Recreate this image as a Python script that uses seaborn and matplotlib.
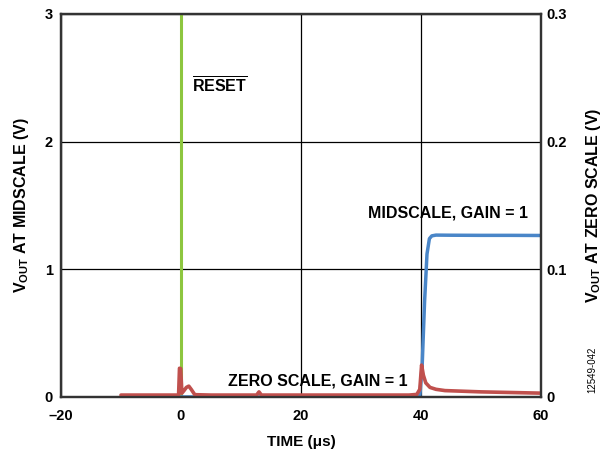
import numpy as np
import pandas as pd
import matplotlib
matplotlib.use("Agg")
import matplotlib.pyplot as plt
import seaborn as sns

sns.set_style("white")
plt.rcParams['font.family'] = ['Liberation Sans', 'DejaVu Sans']
plt.rcParams['font.weight'] = 'bold'
plt.rcParams['mathtext.fontset'] = 'custom'
plt.rcParams['mathtext.rm'] = 'Liberation Sans:bold'
plt.rcParams['mathtext.bf'] = 'Liberation Sans:bold'
plt.rcParams['mathtext.it'] = 'Liberation Sans:bold'
plt.rcParams['text.color'] = 'black'
plt.rcParams['axes.labelcolor'] = 'black'
plt.rcParams['xtick.color'] = 'black'
plt.rcParams['ytick.color'] = 'black'

# midscale output (left axis, V)
mid_t = [-10, 39.8, 40.2, 40.6, 41.0, 41.4, 41.8, 42.5, 45, 50, 55, 60]
mid_v = [0.0, 0.0, 0.25, 0.75, 1.12, 1.24, 1.262, 1.268, 1.267, 1.266, 1.266, 1.265]

# zero scale output (right axis, V)
zero_t = [-10, -1, -0.4, -0.25, -0.05, 0.15, 0.5, 0.9, 1.3, 1.7, 2.3, 5, 12.6, 13.0, 13.4, 20, 30, 38, 39.3,
          39.8, 40.1, 40.4, 40.8, 41.5, 42.5, 44, 47, 50, 55, 60]
zero_v = [0.0015, 0.0015, 0.0015, 0.0225, 0.0222, 0.003, 0.005, 0.0075, 0.0085, 0.006, 0.0018, 0.0015, 0.0015,
          0.004, 0.0015, 0.0015, 0.0015, 0.0015, 0.002, 0.006, 0.025, 0.017, 0.011, 0.0075, 0.006, 0.005,
          0.0045, 0.004, 0.0035, 0.003]

# reset pulse marker
reset_t = [0, 0]
reset_v = [0, 3]

x_ticks = [-20, 0, 20, 40, 60]
x_labels = ['\u201320', '0', '20', '40', '60']
left_ticks = [0, 1, 2, 3]
right_ticks = [0, 0.1, 0.2, 0.3]
right_labels = ['0', '0.1', '0.2', '0.3']

fig = plt.figure(figsize=(6.08, 4.54), dpi=100)
ax = fig.add_axes([0.1003, 0.1256, 0.7895, 0.8436])
ax2 = ax.twinx()

sns.lineplot(x=reset_t, y=reset_v, ax=ax, color='#8dc63f', lw=2.2, sort=False, estimator=None)
sns.lineplot(x=mid_t, y=mid_v, ax=ax, color='#4a86c8', lw=2.5, sort=False, estimator=None)
sns.lineplot(x=zero_t, y=zero_v, ax=ax2, color='#c0504d', lw=2.6, sort=False, estimator=None)

ax.set_xlim(-20, 60)
ax.set_ylim(0, 3)
ax2.set_ylim(0, 0.3)
ax.set_xticks(x_ticks)
ax.set_xticklabels(x_labels)
ax.set_yticks(left_ticks)
ax2.set_yticks(right_ticks)
ax2.set_yticklabels(right_labels)

ax.grid(True, color='black', lw=0.9)
ax.set_axisbelow(True)
for a in (ax, ax2):
    for s in a.spines.values():
        s.set_color('#333333')
        s.set_linewidth(1.6)
    a.tick_params(length=0, labelsize=10.5)
ax.tick_params(axis='x', pad=9)
ax.tick_params(axis='y', pad=6)
ax2.tick_params(axis='y', pad=4)

ax.set_xlabel('TIME (\u03bcs)', fontsize=11, fontweight='bold', labelpad=8)
ax.set_ylabel(r'V$_{\mathrm{OUT}}$ AT MIDSCALE (V)', fontsize=11.5, fontweight='bold', labelpad=10)
ax2.set_ylabel(r'V$_{\mathrm{OUT}}$ AT ZERO SCALE (V)', fontsize=11.5, fontweight='bold', labelpad=12)

ax.text(1.9, 2.44, r'$\overline{\mathrm{RESET}}$', fontsize=11.5, ha='left', va='center')
ax.text(57.8, 1.44, 'MIDSCALE, GAIN = 1', fontsize=11.5, fontweight='bold', ha='right', va='center')
ax.text(37.8, 0.125, 'ZERO SCALE, GAIN = 1', fontsize=11.5, fontweight='bold', ha='right', va='center')

fig.text(0.975, 0.185, '12549-042', rotation=90, fontsize=7, fontweight='normal', ha='center', va='center')

fig.savefig('out.png', dpi=100)
